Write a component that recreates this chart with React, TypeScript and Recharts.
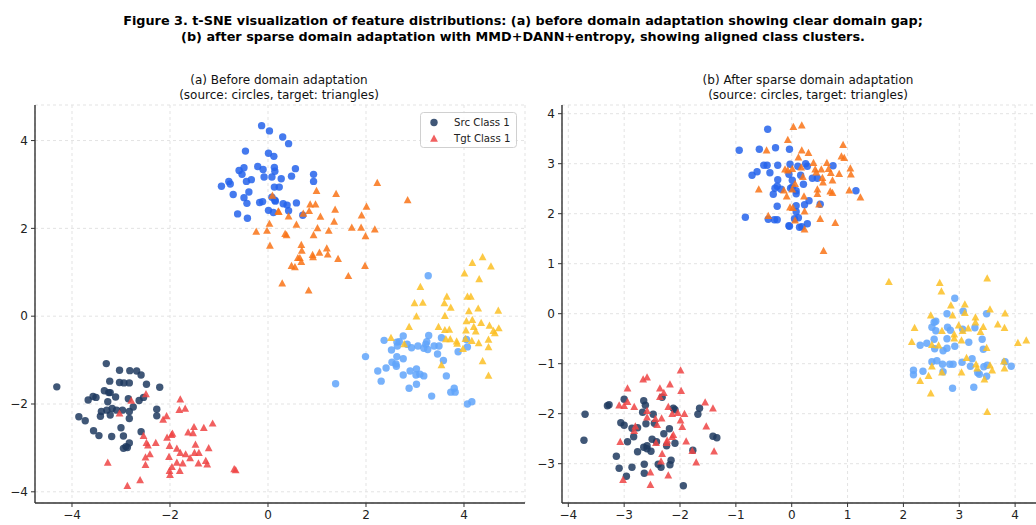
import React from 'react'
import { ScatterChart, Scatter, XAxis, YAxis, CartesianGrid } from 'recharts'

type Pt = [number, number]

// (a) before adaptation
const srcA0: Pt[] = [[-0.13,4.34],[0.03,4.22],[0.30,4.08],[0.42,3.93],[-0.46,3.76],[0.01,3.71],[0.12,3.64],[-0.21,3.41],[-0.10,3.34],[-0.49,3.38],[-0.59,3.32],[-0.53,3.23],[0.13,3.39],[0.14,3.30],[0.56,3.36],[-0.08,3.17],[0.08,3.17],[0.27,3.13],[0.48,3.19],[0.93,3.23],[0.93,3.07],[-0.34,3.11],[-0.44,3.07],[-0.80,3.07],[-0.77,3.01],[-0.95,2.96],[0.13,2.94],[0.23,2.94],[-0.39,2.83],[0.08,2.71],[-0.71,2.77],[-0.49,2.70],[0.15,2.62],[0.14,2.64],[-0.43,2.57],[-0.17,2.59],[-0.11,2.61],[0.31,2.56],[0.39,2.53],[0.58,2.58],[0.01,2.41],[0.11,2.36],[0.42,2.40],[-0.62,2.33],[-0.42,2.23],[0.71,2.30]]
const tgtA0: Pt[] = [[0.09,2.75],[0.21,2.39],[0.03,2.11],[-0.24,1.93],[-0.02,1.95],[0.04,1.61],[0.99,2.86],[1.39,2.79],[2.23,3.04],[2.85,2.65],[0.86,2.55],[0.97,2.55],[2.01,2.50],[0.22,2.38],[0.42,2.28],[0.72,2.34],[0.84,2.40],[1.37,2.43],[1.07,2.27],[1.91,2.30],[1.35,2.16],[0.58,2.09],[1.01,2.01],[1.24,1.95],[1.71,2.02],[1.90,2.02],[2.18,1.98],[0.35,1.88],[0.38,1.85],[0.93,1.85],[1.99,1.83],[0.68,1.63],[0.69,1.50],[1.20,1.55],[1.05,1.45],[0.91,1.40],[0.92,1.35],[1.22,1.41],[0.65,1.33],[0.61,1.33],[0.68,1.24],[1.43,1.31],[0.48,1.15],[0.55,1.12],[1.98,1.15],[1.64,0.92],[0.29,0.75],[0.83,0.59]]
const srcA1: Pt[] = [[-4.31,-1.61],[-3.30,-1.08],[-3.03,-1.23],[-2.82,-1.24],[-2.68,-1.25],[-2.59,-1.34],[-3.23,-1.48],[-3.03,-1.51],[-2.94,-1.52],[-2.83,-1.52],[-2.48,-1.55],[-2.21,-1.62],[-3.34,-1.70],[-3.25,-1.74],[-3.22,-1.74],[-3.57,-1.83],[-3.67,-1.91],[-3.51,-1.85],[-3.11,-1.84],[-2.85,-1.88],[-2.63,-1.92],[-2.54,-1.85],[-3.27,-1.95],[-2.75,-2.07],[-2.97,-2.14],[-3.09,-2.14],[-3.18,-2.10],[-3.29,-2.14],[-3.40,-2.17],[-3.42,-2.28],[-3.22,-2.25],[-2.83,-2.17],[-2.83,-2.33],[-2.27,-2.12],[-2.27,-2.27],[-3.86,-2.29],[-3.73,-2.38],[-3.00,-2.54],[-3.56,-2.61],[-3.45,-2.72],[-3.19,-2.74],[-2.95,-2.73],[-2.59,-2.63],[-2.83,-2.89],[-2.90,-2.97],[-2.95,-3.01],[-2.87,-2.99]]
const tgtA1: Pt[] = [[-2.49,-1.77],[-2.79,-1.92],[-3.03,-2.21],[-1.79,-1.89],[-1.69,-2.10],[-1.81,-2.13],[-2.07,-2.27],[-2.14,-2.35],[-1.13,-2.44],[-1.31,-2.54],[-1.51,-2.52],[-1.63,-2.64],[-1.53,-2.66],[-2.54,-2.72],[-1.95,-2.67],[-1.97,-2.70],[-2.06,-2.76],[-2.29,-2.88],[-2.48,-2.88],[-2.45,-2.94],[-2.01,-2.95],[-1.48,-2.92],[-1.21,-3.00],[-1.86,-3.01],[-1.79,-3.11],[-1.68,-3.14],[-1.59,-3.23],[-1.41,-3.11],[-1.50,-3.11],[-2.41,-3.14],[-2.50,-3.21],[-2.02,-3.20],[-1.86,-3.33],[-1.74,-3.35],[-1.42,-3.35],[-1.27,-3.29],[-1.24,-3.37],[-2.50,-3.38],[-3.27,-3.33],[-1.96,-3.43],[-2.01,-3.52],[-1.80,-3.52],[-2.00,-3.61],[-0.69,-3.48],[-0.66,-3.50],[-2.61,-3.73],[-2.87,-3.86]]
const srcA2: Pt[] = [[3.27,0.92],[1.38,-1.54],[1.99,-0.92],[2.37,-0.55],[2.52,-0.77],[2.63,-0.59],[2.68,-0.58],[2.76,-0.45],[2.64,-0.68],[2.84,-0.64],[2.93,-0.72],[3.06,-0.68],[3.22,-0.64],[3.24,-0.58],[3.28,-0.44],[3.18,-0.73],[3.26,-0.76],[3.39,-0.68],[3.49,-0.68],[3.46,-0.86],[3.54,-0.49],[3.58,-1.01],[3.88,-0.81],[4.05,-0.53],[4.07,-0.70],[2.63,-0.92],[2.76,-0.97],[2.53,-1.05],[2.61,-1.09],[2.62,-1.14],[2.41,-1.18],[2.24,-1.25],[2.31,-1.48],[2.76,-1.34],[2.90,-1.25],[3.03,-1.20],[3.02,-1.34],[3.10,-1.32],[3.18,-1.36],[3.03,-1.55],[2.88,-1.64],[3.64,-1.36],[3.34,-1.82],[3.73,-1.73],[3.80,-1.64],[3.82,-1.73],[4.07,-2.00],[4.16,-1.95]]
const tgtA2: Pt[] = [[4.38,1.35],[4.17,1.22],[4.55,1.14],[4.01,0.98],[4.31,0.85],[3.11,0.67],[3.65,0.45],[4.07,0.45],[4.14,0.45],[2.99,0.30],[3.16,0.31],[3.60,0.30],[3.73,0.20],[4.29,0.18],[4.10,0.12],[4.70,0.13],[3.03,0.00],[3.61,0.01],[4.05,-0.11],[4.17,-0.08],[4.35,-0.15],[4.20,-0.24],[2.88,-0.24],[3.48,-0.24],[3.61,-0.31],[3.70,-0.30],[4.04,-0.32],[4.24,-0.34],[4.52,-0.21],[4.71,-0.27],[4.60,-0.33],[4.63,-0.38],[2.51,-0.49],[3.63,-0.52],[3.72,-0.52],[3.85,-0.57],[3.86,-0.62],[3.98,-0.74],[4.03,-0.51],[4.16,-0.56],[4.30,-0.61],[4.50,-0.53],[4.50,-0.70],[2.78,-0.63],[3.54,-1.11],[4.38,-1.02],[4.50,-1.35]]

// (b) after adaptation
const srcB0: Pt[] = [[-0.94,3.27],[-0.43,3.69],[-0.58,3.29],[-0.29,3.32],[-0.04,3.29],[-0.50,2.97],[-0.44,2.97],[-0.25,2.97],[-0.03,2.99],[-0.62,2.84],[-0.71,2.77],[-0.39,2.82],[-0.05,2.79],[-0.25,2.68],[-0.26,2.55],[-0.30,2.51],[-0.02,2.51],[-0.19,2.49],[-0.33,2.39],[-0.26,2.15],[-0.83,1.93],[-0.42,1.89],[-0.31,1.88],[-0.26,1.88],[-0.05,1.76],[0.11,2.95],[0.25,3.00],[0.28,2.95],[0.74,2.96],[0.16,2.77],[0.01,2.67],[0.37,2.71],[0.46,2.71],[0.01,2.53],[0.21,2.59],[0.08,2.46],[0.08,2.40],[1.15,2.46],[0.31,2.26],[0.23,2.18],[0.51,2.19],[0.08,2.16],[0.08,2.04],[0.12,1.92],[0.05,1.90],[-0.04,1.75],[0.14,1.73],[0.18,1.74],[0.28,1.80]]
const tgtB0: Pt[] = [[-0.45,3.27],[-0.07,3.48],[-0.12,2.89],[-0.59,2.49],[-0.14,2.47],[-0.09,2.35],[-0.42,1.96],[-0.03,2.13],[-0.07,2.87],[0.03,3.74],[0.18,3.77],[0.18,3.27],[0.30,3.22],[0.92,3.38],[0.89,3.15],[0.94,3.12],[0.12,3.13],[0.39,3.02],[0.63,3.02],[0.01,2.90],[0.17,2.93],[0.42,2.89],[0.53,2.89],[0.66,2.90],[0.70,2.82],[0.44,2.83],[0.85,2.80],[1.05,2.91],[1.06,2.79],[0.20,2.74],[0.73,2.67],[0.55,2.72],[0.56,2.63],[0.06,2.60],[0.01,2.49],[0.22,2.35],[0.46,2.49],[0.46,2.40],[0.69,2.45],[0.73,2.42],[1.03,2.47],[1.23,2.33],[0.49,2.19],[0.02,2.12],[0.23,2.05],[0.51,1.90],[0.06,1.87],[0.78,1.82],[0.23,1.69],[0.57,1.26]]
const srcB1: Pt[] = [[-3.70,-2.01],[-3.72,-2.53],[-3.30,-1.84],[-3.27,-1.82],[-3.00,-1.71],[-2.65,-1.74],[-2.62,-1.83],[-2.67,-1.97],[-2.48,-2.01],[-2.32,-1.67],[-2.12,-1.89],[-2.09,-1.92],[-1.65,-1.89],[-1.68,-2.01],[-3.06,-2.18],[-3.00,-2.23],[-2.86,-2.29],[-2.76,-2.28],[-2.61,-2.20],[-2.46,-2.19],[-2.19,-2.30],[-2.29,-2.40],[-2.83,-2.46],[-2.94,-2.56],[-2.50,-2.51],[-2.42,-2.56],[-2.24,-2.64],[-2.09,-2.59],[-2.65,-2.67],[-2.59,-2.64],[-2.59,-2.70],[-2.52,-2.75],[-2.76,-2.76],[-3.14,-2.85],[-1.77,-2.73],[-1.41,-2.45],[-1.34,-2.48],[-2.16,-2.93],[-2.18,-3.02],[-2.39,-3.01],[-2.34,-3.07],[-2.64,-3.01],[-3.09,-3.09],[-2.86,-3.07],[-2.64,-3.19],[-2.96,-3.25],[-1.94,-3.44]]
const tgtB1: Pt[] = [[-1.99,-1.13],[-2.66,-1.31],[-2.59,-1.27],[-2.18,-1.41],[-2.94,-1.49],[-2.36,-1.49],[-2.29,-1.58],[-1.98,-1.54],[-2.36,-1.66],[-3.09,-1.83],[-3.00,-1.84],[-2.94,-1.76],[-2.82,-1.86],[-2.21,-1.86],[-1.55,-1.77],[-1.41,-1.89],[-2.59,-1.94],[-2.14,-2.00],[-2.04,-1.98],[-1.92,-2.00],[-2.59,-2.07],[-2.44,-2.10],[-2.33,-2.09],[-1.99,-2.13],[-2.41,-2.22],[-1.96,-2.26],[-1.53,-2.25],[-2.80,-2.25],[-2.82,-2.34],[-2.12,-2.42],[-2.14,-2.46],[-2.23,-2.53],[-2.24,-2.58],[-2.43,-2.58],[-3.07,-2.56],[-1.89,-2.55],[-1.39,-2.75],[-1.78,-2.74],[-2.32,-2.80],[-2.34,-2.95],[-1.71,-2.97],[-2.53,-3.17],[-2.21,-3.23],[-3.02,-3.32],[-2.53,-3.42]]
const srcB2: Pt[] = [[2.92,0.31],[2.78,0.00],[3.07,0.05],[3.49,0.00],[2.58,-0.15],[2.55,-0.17],[2.51,-0.27],[2.58,-0.34],[2.79,-0.27],[2.84,-0.33],[3.06,-0.31],[3.28,-0.28],[2.78,-0.50],[2.55,-0.51],[2.42,-0.59],[2.30,-0.63],[2.56,-0.70],[2.71,-0.74],[2.78,-0.69],[2.92,-0.65],[3.17,-0.57],[3.41,-0.51],[3.43,-0.71],[2.51,-0.96],[2.60,-0.94],[2.70,-1.01],[2.83,-1.01],[2.89,-1.01],[3.05,-0.97],[3.23,-0.90],[3.20,-1.05],[3.44,-1.06],[3.50,-1.03],[3.82,-0.96],[3.93,-1.05],[2.18,-1.13],[2.18,-1.22],[2.35,-1.15],[2.71,-1.16],[3.33,-1.18],[3.36,-1.21],[3.49,-1.25],[2.88,-1.49],[3.26,-1.47]]
const tgtB2: Pt[] = [[1.74,0.64],[2.65,0.62],[2.68,0.45],[3.50,0.71],[2.85,0.17],[3.10,0.19],[3.10,0.02],[2.49,-0.03],[2.88,-0.03],[3.29,-0.07],[3.55,0.09],[3.82,0.01],[3.29,-0.17],[2.20,-0.28],[2.69,-0.34],[2.99,-0.23],[3.16,-0.29],[3.43,-0.26],[3.38,-0.36],[3.69,-0.21],[3.81,-0.28],[2.91,-0.41],[2.91,-0.49],[3.06,-0.34],[3.04,-0.53],[2.15,-0.56],[2.63,-0.63],[2.51,-0.62],[3.49,-0.68],[4.05,-0.58],[4.20,-0.53],[3.13,-0.88],[3.30,-1.01],[3.32,-1.09],[3.55,-1.03],[3.59,-1.13],[3.80,-0.95],[3.81,-1.09],[2.51,-1.05],[2.69,-1.17],[3.04,-1.17],[2.45,-1.24],[2.30,-1.34],[2.49,-1.59],[3.45,-1.31],[3.50,-1.96]]

const ticksA = [-4, -2, 0, 2, 4]
const ticksBx = [-4, -3, -2, -1, 0, 1, 2, 3, 4]
const ticksBy = [-3, -2, -1, 0, 1, 2, 3, 4]

const COLORS = ['#2563eb', '#f97316', '#1e3a5f', '#ef4444', '#60a5fa', '#fbbf24']
const FONT = '"DejaVu Sans", sans-serif'

const toObj = (arr: Pt[]) => arr.map(([x, y]) => ({ x, y }))
const fmt = (v: number) => (v < 0 ? `\u2212${Math.abs(v)}` : `${v}`)

const circle = (color: string) => (p: any) =>
  <circle cx={p.cx} cy={p.cy} r={3.7} fill={color} fillOpacity={0.85} />
const triangle = (color: string) => (p: any) =>
  <polygon points={`${p.cx},${p.cy - 3.9} ${p.cx - 3.9},${p.cy + 3.3} ${p.cx + 3.9},${p.cy + 3.3}`}
    fill={color} fillOpacity={0.85} />

function Panel({ width, margin, xDomain, yDomain, xTicks, yTicks, yWidth, sets }: any) {
  const tick = { fill: '#222', fontSize: 12, fontFamily: FONT }
  return (
    <ScatterChart width={width} height={525} margin={margin}>
      <CartesianGrid stroke="#e3e3e3" strokeDasharray="3 3" />
      <XAxis type="number" dataKey="x" domain={xDomain} ticks={xTicks} allowDataOverflow
        tickFormatter={fmt} tick={tick} height={22} tickSize={4} tickMargin={3}
        axisLine={{ stroke: '#333', strokeWidth: 1.4 }} tickLine={{ stroke: '#333' }} />
      <YAxis type="number" dataKey="y" domain={yDomain} ticks={yTicks} allowDataOverflow
        tickFormatter={fmt} tick={tick} width={yWidth} tickSize={4} tickMargin={3}
        axisLine={{ stroke: '#333', strokeWidth: 1.4 }} tickLine={{ stroke: '#333' }} />
      {sets.map((s: Pt[], i: number) => (
        <Scatter key={i} data={toObj(s)} isAnimationActive={false}
          shape={i % 2 === 0 ? circle(COLORS[i]) : triangle(COLORS[i])} />
      ))}
    </ScatterChart>
  )
}

const sub = (left: number, l1: string) => (
  <div style={{ position: 'absolute', left: left - 200, width: 400, top: 73, textAlign: 'center',
    fontFamily: FONT, fontSize: 12, lineHeight: '14.5px', color: '#111' }}>
    <div>{l1}</div>
    <div>(source: circles, target: triangles)</div>
  </div>
)

export default function App() {
  return (
    <div style={{ position: 'absolute', left: 0, top: 0, width: 1036, height: 525, overflow: 'hidden', background: '#fff' }}>
      <div style={{ position: 'absolute', left: 0, width: 1046, top: 13, textAlign: 'center',
        fontFamily: FONT, fontWeight: 'bold', fontSize: 12.8, lineHeight: '16px', color: '#000' }}>
        <div>Figure 3. t-SNE visualization of feature distributions: (a) before domain adaptation showing clear domain gap;</div>
        <div>(b) after sparse domain adaptation with MMD+DANN+entropy, showing aligned class clusters.</div>
      </div>
      {sub(279, '(a) Before domain adaptation')}
      {sub(808, '(b) After sparse domain adaptation')}
      <div style={{ position: 'absolute', left: 0, top: 0 }}>
        <Panel width={545} margin={{ top: 105, right: 20, bottom: 0, left: 0 }}
          xDomain={[-4.755, 5.245]} yDomain={[-4.255, 4.81]} xTicks={ticksA} yTicks={ticksA} yWidth={35}
          sets={[srcA0, tgtA0, srcA1, tgtA1, srcA2, tgtA2]} />
      </div>
      <div style={{ position: 'absolute', left: 520, top: 0 }}>
        <Panel width={560} margin={{ top: 105, right: 24, bottom: 0, left: 0 }}
          xDomain={[-4.113, 4.732]} yDomain={[-3.786, 4.174]} xTicks={ticksBx} yTicks={ticksBy} yWidth={42}
          sets={[srcB0, tgtB0, srcB1, tgtB1, srcB2, tgtB2]} />
      </div>
      <svg style={{ position: 'absolute', left: 420, top: 112 }} width={98} height={37}>
        <rect x={0.5} y={0.5} width={96} height={35} rx={3} fill="#fff" fillOpacity={0.85} stroke="#d0d0d0" />
        <circle cx={14} cy={10.5} r={3.7} fill={COLORS[2]} fillOpacity={0.85} />
        <polygon points="14,22.6 10.1,29.8 17.9,29.8" fill={COLORS[3]} fillOpacity={0.85} />
        <text x={34} y={14} fontFamily={FONT} fontSize={10.2} fill="#222">Src Class 1</text>
        <text x={34} y={30} fontFamily={FONT} fontSize={10.2} fill="#222">Tgt Class 1</text>
      </svg>
    </div>
  )
}
